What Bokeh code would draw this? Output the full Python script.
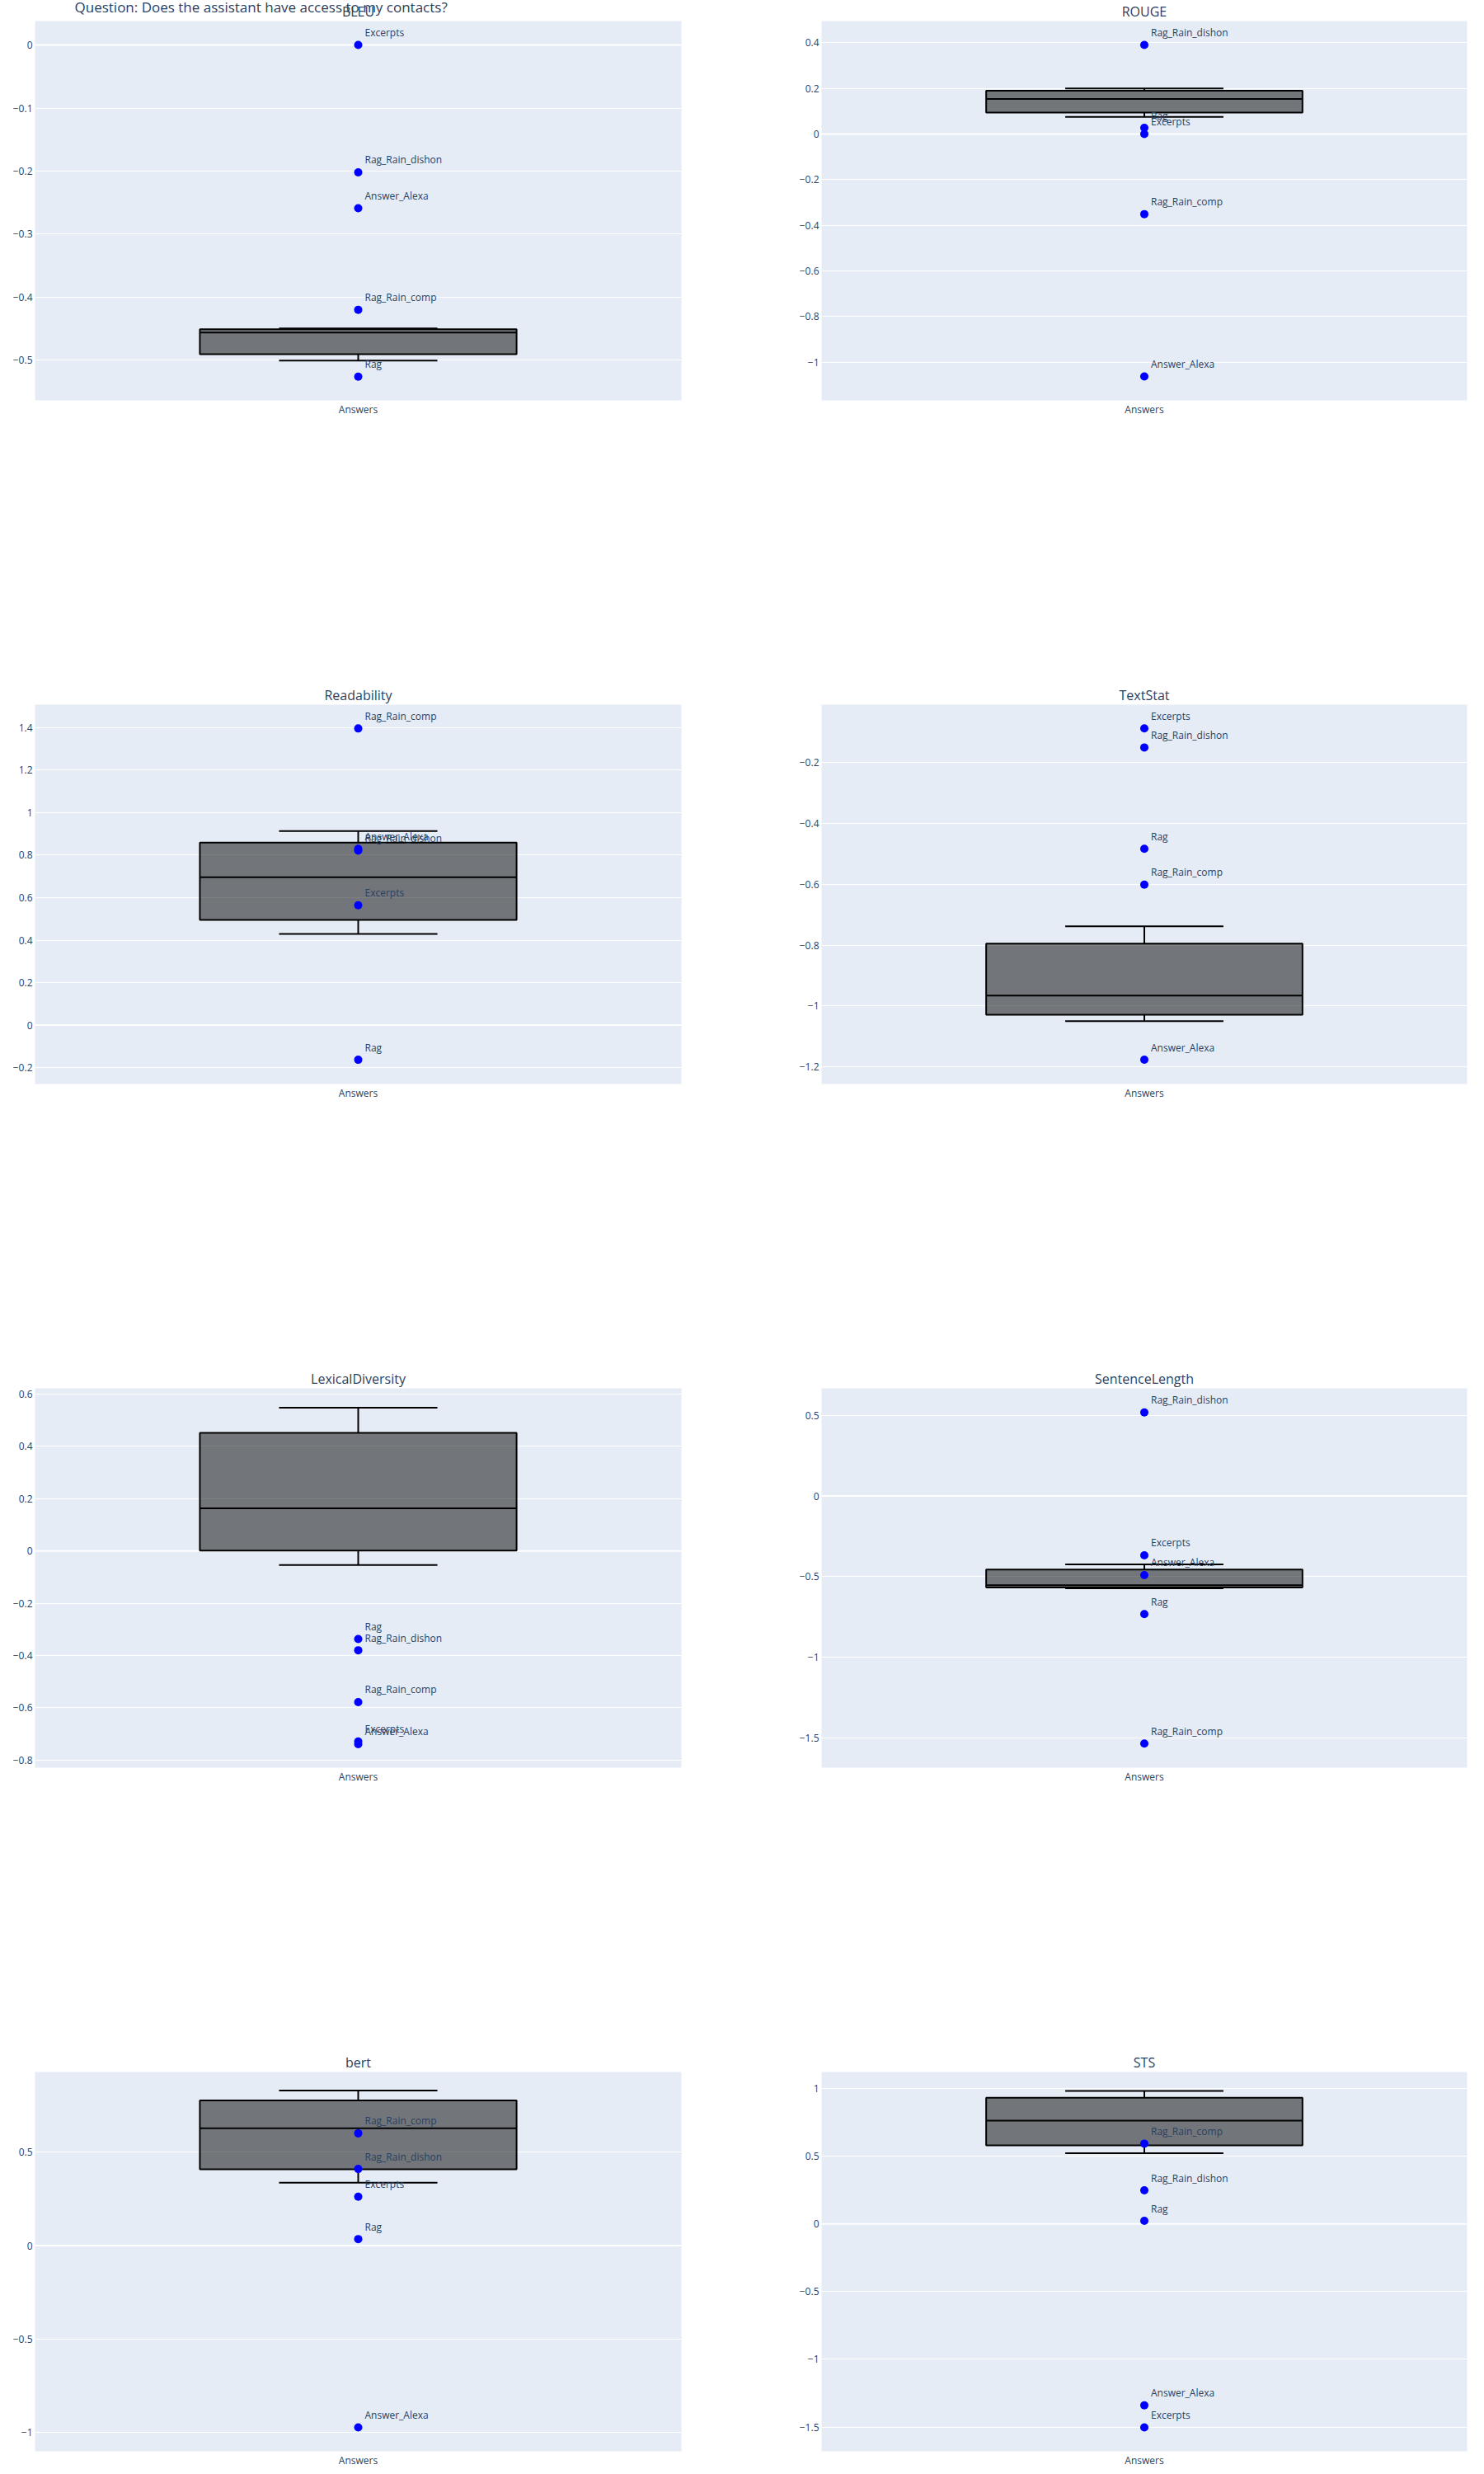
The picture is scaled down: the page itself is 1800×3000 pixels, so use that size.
from bokeh.plotting import figure
from bokeh.layouts import column, row
from bokeh.models import (ColumnDataSource, FactorRange, Range1d, FixedTicker,
                          CustomJSTickFormatter, Span)
from bokeh.transform import dodge
from bokeh.core.properties import value
from bokeh.embed import file_html
from bokeh.resources import INLINE

# ---------------- data ----------------
main_title = "Question: Does the assistant have access to my contacts?"
category = ["Answers"]
answers = ["Answer_Alexa", "Excerpts", "Rag", "Rag_Rain_comp", "Rag_Rain_dishon"]
metrics = ["BLEU", "ROUGE", "Readability", "TextStat",
           "LexicalDiversity", "SentenceLength", "bert", "STS"]

# per-answer scores (same order as `answers`)
bleu = [-0.259, 0.0, -0.526, -0.420, -0.202]
rouge = [-1.062, 0.0, 0.027, -0.351, 0.390]
readability = [0.830, 0.564, -0.163, 1.396, 0.821]
textstat = [-1.177, -0.087, -0.483, -0.601, -0.150]
lexical_diversity = [-0.739, -0.729, -0.337, -0.578, -0.380]
sentence_length = [-0.491, -0.368, -0.733, -1.536, 0.518]
bert = [-0.975, 0.262, 0.035, 0.602, 0.411]
sts = [-1.340, -1.502, 0.022, 0.592, 0.247]
scores = [bleu, rouge, readability, textstat, lexical_diversity,
          sentence_length, bert, sts]

# box statistics per metric (same order as `metrics`)
box_lower = [-0.5005, 0.075, 0.4295, -1.050, -0.054, -0.573, 0.337, 0.521]
box_q1 = [-0.4905, 0.094, 0.4955, -1.029, 0.001, -0.568, 0.409, 0.580]
box_median = [-0.456, 0.154, 0.696, -0.966, 0.163, -0.554, 0.629, 0.762]
box_q3 = [-0.4508, 0.190, 0.859, -0.795, 0.452, -0.457, 0.778, 0.931]
box_upper = [-0.4495, 0.200, 0.913, -0.738, 0.548, -0.425, 0.831, 0.981]

# axis ranges and tick values per metric
y_ranges = [(-0.5637, 0.038), (-1.167, 0.495), (-0.277, 1.508), (-1.257, -0.0092),
            (-0.829, 0.622), (-1.686, 0.668), (-1.103, 0.931), (-1.679, 1.121)]
y_ticks = [
    [0, -0.1, -0.2, -0.3, -0.4, -0.5],
    [0.4, 0.2, 0, -0.2, -0.4, -0.6, -0.8, -1],
    [1.4, 1.2, 1, 0.8, 0.6, 0.4, 0.2, 0, -0.2],
    [-0.2, -0.4, -0.6, -0.8, -1, -1.2],
    [0.6, 0.4, 0.2, 0, -0.2, -0.4, -0.6, -0.8],
    [0.5, 0, -0.5, -1, -1.5],
    [0.5, 0, -0.5, -1],
    [1, 0.5, 0, -0.5, -1, -1.5],
]

# ---------------- style / layout ----------------
FONT = "Open Sans"
TXT = "#2a3f5f"
BG = "#E5ECF6"
PAGE_W = 1800
COL_W = 900
FRAME_W = [784, 783]
BORDER_L = [42, 96]
BORDER_R = [74, 21]
HEAD_H = 25          # strip above each row holding the titles
FRAME_H = 460
BORDER_B = [344, 344, 344, 28]
TITLE_BASE = 11.5    # subplot title position in the strip
MAIN_BASE = 17.5     # main title position in the strip
MAIN_X = 90

fmt_code = """
const v = Math.round(tick * 1000) / 1000;
return v < 0 ? '\\u2212' + String(-v) : String(v);
"""


def make_header(r):
    h = figure(frame_width=PAGE_W, frame_height=HEAD_H,
               x_range=Range1d(0, PAGE_W), y_range=Range1d(0, HEAD_H),
               min_border=0, x_axis_type=None, y_axis_type=None,
               output_backend="svg", toolbar_location=None, tools="",
               background_fill_color="white", border_fill_color="white")
    h.outline_line_color = None
    h.grid.visible = False
    names = [metrics[2 * r], metrics[2 * r + 1]]
    xs = [BORDER_L[0] + FRAME_W[0] / 2, COL_W + BORDER_L[1] + FRAME_W[1] / 2]
    h.text(x=xs, y=[TITLE_BASE] * 2, text=names, text_font=value(FONT),
           text_font_size="16px", text_color=TXT, text_align="center",
           text_baseline="alphabetic")
    if r == 0:
        h.text(x=[MAIN_X], y=[MAIN_BASE], text=[main_title], text_font=value(FONT),
               text_font_size="17px", text_color=TXT, text_align="left",
               text_baseline="alphabetic")
    return h


def make_panel(i):
    r, c = divmod(i, 2)
    p = figure(x_range=FactorRange(factors=category),
               y_range=Range1d(*y_ranges[i]),
               frame_width=FRAME_W[c], frame_height=FRAME_H,
               min_border_left=BORDER_L[c], min_border_right=BORDER_R[c],
               min_border_top=0, min_border_bottom=BORDER_B[r],
               output_backend="svg", toolbar_location=None, tools="",
               background_fill_color=BG, border_fill_color="white")
    p.outline_line_color = None
    p.xgrid.grid_line_color = None
    p.ygrid.grid_line_color = "white"
    p.ygrid.grid_line_width = 1
    p.ygrid.ticker = FixedTicker(ticks=y_ticks[i])
    p.add_layout(Span(location=0, dimension="width", line_color="white",
                      line_width=2, level="underlay"))

    for ax in (p.xaxis[0], p.yaxis[0]):
        ax.axis_line_color = None
        ax.major_tick_line_color = None
        ax.minor_tick_line_color = None
        ax.major_tick_in = 0
        ax.major_tick_out = 0
        ax.minor_tick_in = 0
        ax.minor_tick_out = 0
        ax.major_label_text_font = FONT
        ax.major_label_text_font_size = "12px"
        ax.major_label_text_color = TXT
    p.yaxis[0].ticker = FixedTicker(ticks=y_ticks[i])
    p.yaxis[0].formatter = CustomJSTickFormatter(code=fmt_code)
    p.yaxis[0].major_label_standoff = 3
    p.xaxis[0].major_label_standoff = 2

    # box
    bsrc = ColumnDataSource(dict(x=category, lower=[box_lower[i]], q1=[box_q1[i]],
                                 med=[box_median[i]], q3=[box_q3[i]],
                                 upper=[box_upper[i]]))
    xr = p.x_range
    p.segment(x0="x", x1="x", y0="q3", y1="upper", source=bsrc,
              line_color="black", line_width=2)
    p.segment(x0="x", x1="x", y0="q1", y1="lower", source=bsrc,
              line_color="black", line_width=2)
    p.vbar(x="x", width=0.49, bottom="q1", top="q3", source=bsrc,
           fill_color="black", fill_alpha=0.5, line_color="black", line_width=2)
    p.segment(x0=dodge("x", -0.245, range=xr), x1=dodge("x", 0.245, range=xr),
              y0="med", y1="med", source=bsrc, line_color="black", line_width=2)
    for key in ("lower", "upper"):
        p.segment(x0=dodge("x", -0.1225, range=xr), x1=dodge("x", 0.1225, range=xr),
                  y0=key, y1=key, source=bsrc, line_color="black", line_width=2)

    # points with their names
    psrc = ColumnDataSource(dict(x=category * len(answers), y=scores[i], name=answers))
    p.scatter(x="x", y="y", source=psrc, size=10, fill_color="blue",
              line_color=None)
    p.text(x="x", y="y", text="name", source=psrc, text_font=value(FONT),
           text_font_size="12px", text_color=TXT, text_align="left",
           text_baseline="alphabetic", x_offset=8, y_offset=-15)
    return p


panels = [make_panel(i) for i in range(len(metrics))]
layout = column(*[column(make_header(k), row(panels[2 * k], panels[2 * k + 1]))
                  for k in range(4)])

open("out.html", "w").write(file_html(layout, INLINE))
